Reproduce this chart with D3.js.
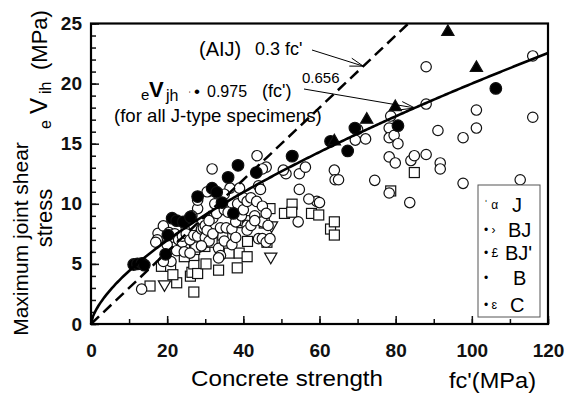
<!DOCTYPE html>
<html>
<head>
<meta charset="utf-8">
<script src="https://cdn.jsdelivr.net/npm/d3@7"></script>
<style>
  body { margin: 0; background: #fff; }
  svg { display: block; font-family: "Liberation Sans", Arial, sans-serif; }
  .tick text { font-weight: bold; font-size: 19px; fill: #111; font-family: "Liberation Sans", Arial, sans-serif; }
  .tick line { stroke: #111; stroke-width: 1.5; }
</style>
</head>
<body>
<div id="chart"></div>
<script>
// J-type specimens (open circles) [fc', eVjh]
const seriesJ = [
  [116,22.3],[116,17.2],[88,21.4],[88,18.3],[101.2,17.8],[101.2,16.3],[97.7,15.5],[91.1,16.1],
  [88,14.1],[91.7,13.4],[91.7,12.9],[97.7,11.7],[112.7,12.0],[84,13.6],[84.9,14.0],[83.7,10.1],
  [78.3,16.3],[78.3,15.5],[79.6,15.7],[80.6,15.0],[78.3,13.9],[79.9,13.4],[78.7,17.3],[78.3,10.9],
  [74.5,11.95],[72.1,15.4],[69.4,15.3],[70,16.2],[63.9,12.8],[64.1,12.0],[65,12.0],[59.3,10.2],
  [60,10.1],[57.2,10.4],[54.4,8.5],[54.7,11.2],[54.7,12.5],[56.3,13.05],[51.2,12.5],[50.5,12.8],
  [53,14.0],[43.6,14.0],[46,13.05],[45,12.9],[31.8,12.9],[31.3,11.07],[13.3,2.9],
  [17.6,7.55],[17.4,7.0],[17,6.8],[19,8.16],[20.5,7.6],[21,7.2],[22,7.5],[22.5,6.1],[23,7.0],
  [24,6.8],[24,7.3],[24.5,6.0],[25,8.0],[25,7.5],[26,7.0],[26,5.9],[27,7.4],[27,8.2],[28,7.3],
  [28,9.6],[28,10.3],[29,7.9],[29.5,8.0],[30,8.2],[30,7.2],[30.5,7.8],[31,6.9],[32,7.5],[32,8.8],
  [32.5,10.0],[33,9.2],[33.5,6.3],[34,5.7],[34,8.0],[35,6.9],[35.5,8.0],[35,9.5],[36,9.3],
  [36.5,11.3],[37,7.9],[37,6.6],[38,8.5],[38.5,10.0],[39,11.3],[39.5,9.0],[40,9.5],[40,10.5],
  [41,10.2],[41,8.2],[41,7.8],[42,10.5],[42,8.2],[43,9.0],[43.5,10.2],[44,11.5],[44.5,11.2],
  [44,7.1],[45,8.5],[45,9.8],[45,7.1],[46,9.2],[46.5,8.2],[46,6.8],[47,7.1],[33.5,5.5],[21,5.2],
  [19,5.2],[29,6.5],[31,8.6],[38,7.2],[43,8.6],[20,6.6],[26.5,9.0],[35,10.8],[30.5,11.0]
];
// BJ (filled circles)
const seriesBJ = [
  [11.2,4.95],[12.2,5.0],[13.4,5.05],[14,4.9],[19.6,5.8],[20.2,7.4],[21.3,8.8],[22.5,8.6],
  [24.2,8.5],[26.1,8.9],[28,10.6],[31.8,11.3],[33,10.96],[34.4,10.1],[36,12.2],[37.4,9.2],
  [38.6,13.2],[43.4,12.6],[62.9,15.2],[67.4,14.4],[69.3,16.3],[80.6,16.5],[106.3,19.6],[52.8,13.96]
];
// BJ' (filled triangles)
const seriesBJp = [[93.7,24.3],[101.2,21.3],[79.9,18.05],[72.4,17.0],[63.9,15.2]];
// B (open squares)
const seriesB = [
  [15.5,3.16],[18.5,4.8],[20.9,4.8],[22.5,3.43],[21.5,4.1],[26.1,3.98],[27,2.66],[26.5,4.3],
  [27,5.0],[27,5.7],[27.2,6.2],[27.5,6.4],[28,4.2],[29.9,6.45],[30.2,5.0],[33.5,4.48],[34.6,7.4],
  [36.3,5.9],[38.4,4.67],[38.9,5.9],[39.7,8.43],[40.5,8.6],[41.1,6.87],[41,5.6],[41.1,8.2],
  [45.5,8.4],[46.2,6.8],[47,9.6],[50.8,9.2],[52.8,9.97],[52.7,9.3],[57.9,9.2],[59.8,9.07],
  [62.9,7.9],[63.9,8.5],[63.9,7.4],[78.7,11.07],[84.9,12.6],[31.8,6.8],[24.5,5.6]
];
// C (open down triangles)
const seriesC = [[19.3,3.3],[47.2,5.6],[47.4,8.2]];

const xTicks = [0, 20, 40, 60, 80, 100, 120];
const yTicks = [0, 5, 10, 15, 20, 25];
const legendNames = ["J", "BJ", "BJ'", "B", "C"];
const legendGlyphs = ["ˈ α", "• ›", "• £", "•", "• ɛ"];

// AIJ: 0.3 fc' ; regression: 0.975 fc'^0.656
const aijCoef = 0.3;
const fitCoef = 0.975, fitExp = 0.656;

const width = 568, height = 396;
const x0 = 91, x1 = 548, y0 = 324, y1 = 23.5;

const svg = d3.select("#chart").append("svg")
  .attr("width", width).attr("height", height);

const xScale = d3.scaleLinear().domain([0, 120]).range([x0, x1]);
const yScale = d3.scaleLinear().domain([0, 25]).range([y0, y1]);

// minor ticks
svg.append("g")
  .attr("transform", "translate(" + x0 + ",0)")
  .call(d3.axisLeft(yScale).tickValues(d3.range(0, 26)).tickSize(-5).tickSizeOuter(0).tickFormat(""))
  .call(g => g.select(".domain").remove());
svg.append("g")
  .attr("transform", "translate(0," + y0 + ")")
  .call(d3.axisBottom(xScale).tickValues(d3.range(0, 121, 10)).tickSize(-5).tickSizeOuter(0).tickFormat(""))
  .call(g => g.select(".domain").remove());

// major ticks + labels
svg.append("g")
  .attr("transform", "translate(" + x0 + ",0)")
  .call(d3.axisLeft(yScale).tickValues(yTicks).tickSize(-8).tickSizeOuter(0).tickPadding(9))
  .call(g => g.select(".domain").remove());
svg.append("g")
  .attr("transform", "translate(0," + y0 + ")")
  .call(d3.axisBottom(xScale).tickValues(xTicks).tickSize(-8).tickSizeOuter(0).tickPadding(20))
  .call(g => g.select(".domain").remove());

// markers
const mk = svg.append("g").attr("stroke", "#111").attr("stroke-width", 1.2);

mk.selectAll(".sq").data(seriesB).enter().append("rect")
  .attr("x", d => xScale(d[0]) - 5).attr("y", d => yScale(d[1]) - 5)
  .attr("width", 10).attr("height", 10).attr("fill", "#fff");

mk.selectAll(".dt").data(seriesC).enter().append("path")
  .attr("d", d3.symbol(d3.symbolTriangle, 65))
  .attr("transform", d => "translate(" + xScale(d[0]) + "," + yScale(d[1]) + ") rotate(180)")
  .attr("fill", "#fff");

mk.selectAll(".oc").data(seriesJ).enter().append("circle")
  .attr("cx", d => xScale(d[0])).attr("cy", d => yScale(d[1]))
  .attr("r", 5.2).attr("fill", "#fff");

mk.selectAll(".fc").data(seriesBJ).enter().append("circle")
  .attr("cx", d => xScale(d[0])).attr("cy", d => yScale(d[1]))
  .attr("r", 5.8).attr("fill", "#000");

mk.selectAll(".ft").data(seriesBJp).enter().append("path")
  .attr("d", d3.symbol(d3.symbolTriangle, 65))
  .attr("transform", d => "translate(" + xScale(d[0]) + "," + yScale(d[1]) + ")")
  .attr("fill", "#000");

// AIJ dashed line
svg.append("path")
  .datum([0, 25 / aijCoef])
  .attr("fill", "none").attr("stroke", "#000").attr("stroke-width", 2.5)
  .attr("stroke-dasharray", "11,6")
  .attr("d", d3.line().x(d => xScale(d)).y(d => yScale(aijCoef * d)));

// regression curve
svg.append("path")
  .datum(d3.range(0, 120.01, 0.5))
  .attr("fill", "none").attr("stroke", "#000").attr("stroke-width", 2.6)
  .attr("d", d3.line().x(d => xScale(d)).y(d => yScale(fitCoef * Math.pow(d, fitExp))));

// frame
svg.append("rect")
  .attr("x", x0).attr("y", y1).attr("width", x1 - x0).attr("height", y0 - y1)
  .attr("fill", "none").attr("stroke", "#000").attr("stroke-width", 2.2);

// annotations
function arrow(xs, ys, xe, ye) {
  svg.append("line").attr("x1", xs).attr("y1", ys).attr("x2", xe).attr("y2", ye)
    .attr("stroke", "#000").attr("stroke-width", 1);
  const a = Math.atan2(ye - ys, xe - xs), L = 14, s = 0.3;
  [a + s, a - s].forEach(t => {
    svg.append("line").attr("x1", xe).attr("y1", ye)
      .attr("x2", xe - L * Math.cos(t)).attr("y2", ye - L * Math.sin(t))
      .attr("stroke", "#000").attr("stroke-width", 1);
  });
}
const aijX = 71.5, fitX = 85;
arrow(312, 50, xScale(aijX), yScale(aijCoef * aijX));
arrow(304, 89, xScale(fitX), yScale(fitCoef * Math.pow(fitX, fitExp)));

svg.append("text").attr("x", 199).attr("y", 56).attr("font-size", 20).text("(AIJ)");
svg.append("text").attr("x", 255).attr("y", 55).attr("font-size", 18).text("0.3 fc'");
svg.append("text").attr("x", 302).attr("y", 83).attr("font-size", 15).text("0.656");

const eq = svg.append("text").attr("y", 97).attr("font-size", 17);
eq.append("tspan").attr("x", 141).attr("font-size", 15).attr("dy", 3).text("e");
eq.append("tspan").attr("x", 149).attr("font-size", 22).attr("font-weight", "bold").attr("dy", -3).text("V");
eq.append("tspan").attr("x", 166).attr("font-size", 16).attr("dy", 4).text("jh");
eq.append("tspan").attr("x", 188).attr("font-size", 10).attr("dy", -2).text("ˈ");
eq.append("tspan").attr("x", 194).attr("dy", -2).text("•");
eq.append("tspan").attr("x", 207).attr("font-size", 16).text("0.975");
eq.append("tspan").attr("x", 262).attr("font-size", 18).text("(fc')");
svg.append("text").attr("x", 114).attr("y", 122).attr("font-size", 18.6).text("(for all J-type specimens)");

// axis titles
svg.append("text").attr("x", 191).attr("y", 386).attr("font-size", 22)
  .attr("textLength", 192).attr("lengthAdjust", "spacingAndGlyphs").text("Concrete strength");
svg.append("text").attr("x", 449).attr("y", 388).attr("font-size", 22)
  .attr("textLength", 87).attr("lengthAdjust", "spacingAndGlyphs").text("fc'(MPa)");

svg.append("text").attr("transform", "translate(28,239) rotate(-90)")
  .attr("text-anchor", "middle").attr("font-size", 21).text("Maximum joint shear");
svg.append("text").attr("transform", "translate(52,218) rotate(-90)")
  .attr("text-anchor", "middle").attr("font-size", 22).text("stress");
const yt = svg.append("text").attr("transform", "translate(47,0) rotate(-90)").attr("font-size", 22);
yt.append("tspan").attr("x", -129).attr("font-size", 16).attr("dy", 4).text("e");
yt.append("tspan").attr("x", -114).attr("font-size", 24).attr("dy", -4).text("V");
yt.append("tspan").attr("x", -94).attr("font-size", 16).attr("dy", 4).text("ih");
yt.append("tspan").attr("x", -70).attr("dy", -4).text("(MPa)");

// legend
const lg = svg.append("g");
lg.append("rect").attr("x", 478).attr("y", 185).attr("width", 62).attr("height", 132)
  .attr("fill", "#fff").attr("stroke", "#555").attr("stroke-width", 1);
const rowY = [212, 237, 260, 285, 312];
const nameX = [512, 508, 505, 513, 510];
legendNames.forEach((n, i) => {
  lg.append("text").attr("x", 484).attr("y", rowY[i] - 3).attr("font-size", 12).text(legendGlyphs[i]);
  lg.append("text").attr("x", nameX[i]).attr("y", rowY[i]).attr("font-size", 20).text(n);
});
</script>
</body>
</html>
